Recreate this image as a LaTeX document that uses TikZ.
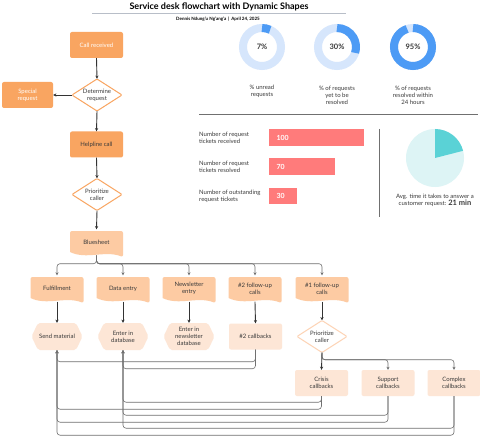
\documentclass[tikz,border=0pt]{standalone}
\usepackage{fontspec}
\setmainfont{Lato}
\usetikzlibrary{arrows.meta,calc}
\definecolor{org}{HTML}{F9A561}
\definecolor{lorg}{HTML}{FDCBA3}
\definecolor{peach}{HTML}{FDE6D6}
\definecolor{pborder}{HTML}{FDD3B5}
\definecolor{txt}{HTML}{3A3A3A}
\definecolor{lblue}{HTML}{D6E6FC}
\definecolor{dblue}{HTML}{4D9BF5}
\definecolor{salmon}{HTML}{FF7B7B}
\definecolor{lcyan}{HTML}{DDF4F5}
\definecolor{tealc}{HTML}{5AD2D6}
\definecolor{linec}{HTML}{333333}
\definecolor{backc}{HTML}{707070}
\definecolor{ulc}{HTML}{B8BEC8}
\newcommand\lbl{\fontsize{6}{7}\selectfont}
\newcommand\mydiamond[5]{%
  \filldraw[fill=white, draw=#4, line width=1pt, rounded corners=1pt] (#2-25,#3) -- (#2,#3-16) -- (#2+25,#3) -- (#2,#3+16) -- cycle;
  \node[ghost, minimum width=50pt, minimum height=32pt] (#1) at (#2,#3) {#5};}
\newcommand\mydoc[5]{%
  \fill[#4, rounded corners=2pt] (#2-26.5,#3+8) -- (#2-26.5,#3-13) -- (#2+26.5,#3-13) -- (#2+26.5,#3+13) [sharp corners] .. controls (#2+8,#3+6) and (#2-10,#3+16) .. (#2-26.5,#3+8) -- cycle;
  \node[ghost, minimum width=53pt, minimum height=26pt] (#1) at (#2,#3-1.5) {#5};}
\newcommand\myhex[5]{%
  \fill[#4, rounded corners=2pt] (#2-25.5,#3) -- (#2-19,#3-13.5) -- (#2+19,#3-13.5) -- (#2+25.5,#3) -- (#2+19,#3+13.5) -- (#2-19,#3+13.5) -- cycle;
  \node[ghost, minimum width=51pt, minimum height=27pt] (#1) at (#2,#3) {#5};}
\begin{document}
\begin{tikzpicture}[x=1pt,y=-1pt,
  ghost/.style={rectangle, inner sep=1pt, align=center, font=\lbl, text=txt},
  box/.style={ghost, rounded corners=2pt, minimum width=53pt, minimum height=26pt},
  arr/.style={draw=linec, line width=0.9pt, -{Stealth[length=3.2pt,width=3.2pt]}},
  brarr/.style={draw=backc, line width=0.6pt, rounded corners=3pt, -{Stealth[length=3pt,width=3pt]}},
  back/.style={draw=backc, line width=0.6pt, rounded corners=3pt, -{Stealth[length=3pt,width=3pt]}},
  plain/.style={font=\lbl, text=txt, align=center, inner sep=0pt}]
\useasboundingbox[fill=white] (0,0) rectangle (480,436);
% title
\node[font=\bfseries\fontsize{9}{9}\selectfont, text=black] (title) at (219,7) {Service desk flowchart with Dynamic Shapes};
\draw[ulc, line width=0.8pt] (92,13) -- (346,13);
\node[font=\bfseries\fontsize{4.5}{5}\selectfont, text=black] (sub) at (218,19.5) {Dennis Ndung'u Ng'ang'a \,\textbf{|}\, April 24, 2025};
% left flow
\node[box, fill=org, text=white] (call) at (96.5,45) {Call received};
\node[box, fill=org, text=white, minimum width=51pt] (spec) at (27.5,95) {Special\\request};
\mydiamond{det}{97}{95}{org}{Determine\\request}
\node[box, fill=org] (help) at (96.5,144.5) {Helpline call};
\mydiamond{pc1}{97}{194.5}{org}{Prioritize\\caller}
\mydoc{blue}{96.5}{244}{lorg}{Bluesheet}
\draw[arr] (call.south) -- (det.north);
\draw[arr] (det.west) -- (spec.east);
\draw[arr] (det.south) -- (help.north);
\draw[arr] (help.south) -- (pc1.north);
\draw[arr] (pc1.south) -- (blue.north);
% document row
\mydoc{ful}{57}{290}{lorg}{Fulfillment}
\mydoc{data}{123}{290}{lorg}{Data entry}
\mydoc{news}{189}{290}{lorg}{Newsletter\\entry}
\mydoc{fu2}{255}{290}{lorg}{\#2 follow-up\\calls}
\mydoc{fu1}{322}{290}{lorg}{\#1 follow-up\\calls}
\foreach \d in {ful,data,news,fu2,fu1}
  \draw[brarr] (blue.south) -- ++(0,8) -| (\d.north);
% second row
\myhex{send}{57}{336.5}{peach}{Send material}
\myhex{enter}{123}{336.5}{peach}{Enter in\\database}
\myhex{nenter}{189}{336.5}{peach}{Enter in\\newsletter\\database}
\node[box, fill=peach] (cb2) at (255.5,336.5) {\#2 callbacks};
\mydiamond{pc2}{322}{336.5}{pborder}{Prioritize\\caller}
\draw[arr] (ful.south) -- (send.north);
\draw[arr] (data.south) -- (enter.north);
\draw[arr] (news.south) -- (nenter.north);
\draw[arr] (fu2.south) -- (cb2.north);
\draw[arr] (fu1.south) -- (pc2.north);
% callbacks
\node[box, fill=peach] (crisis) at (321.5,383) {Crisis\\callbacks};
\node[box, fill=peach] (support) at (388,383) {Support\\callbacks};
\node[box, fill=peach] (complex) at (454,383) {Complex\\callbacks};
\draw[arr] (pc2.south) -- (crisis.north);
\draw[brarr] (pc2.south) -- ++(0,7) -| (support.north);
\draw[brarr] (pc2.south) -- ++(0,7) -| (complex.north);
% return connectors
\draw[back] (cb2.south) -- ++(0,12) -| (send.south);
\draw[back] (cb2.south) -- ++(0,19) -| (enter.south);
\draw[back] (crisis.south) -- ++(0,6) -| (enter.south);
\draw[back] (crisis.south) -- ++(0,13) -| (send.south);
\draw[back] (support.south) -- ++(0,19) -| (enter.south);
\draw[back] (support.south) -- ++(0,26) -| (send.south);
\draw[back] (complex.south) -- ++(0,32) -| (enter.south);
\draw[back] (complex.south) -- ++(0,39) -| (send.south);
% donuts
\foreach \cx/\p in {262/7,337/30,413/95}{
  \draw[lblue, line width=8pt] (\cx,47) circle[radius=19];
  \draw[dblue, line width=8pt] (\cx,47) ++(-90:19) arc[start angle=-90, end angle={-90+3.6*\p}, radius=19];
  \node[font=\bfseries\fontsize{7.5}{8}\selectfont, text=txt] at (\cx,47) {\p\%};
}
\node[plain] (l1) at (262,91.5) {\% unread\\requests};
\node[plain] (l2) at (337,95) {\% of requests\\yet to be\\resolved};
\node[plain] (l3) at (413,95) {\% of requests\\resolved within\\24 hours};
\draw[backc, line width=1pt] (199,115) -- (478,115);
% bars
\fill[salmon] (269,129) rectangle (364,146);
\fill[salmon] (269,158) rectangle (335,175);
\fill[salmon] (269,188) rectangle (297,204);
\node[font=\bfseries\fontsize{7}{7}\selectfont, text=white, anchor=west] (v1) at (273,137.5) {100};
\node[font=\bfseries\fontsize{7}{7}\selectfont, text=white, anchor=west] (v2) at (273,166.5) {70};
\node[font=\bfseries\fontsize{7}{7}\selectfont, text=white, anchor=west] (v3) at (273,196) {30};
\node[plain, align=left, anchor=west] (b1) at (199,137.5) {Number of request\\tickets received};
\node[plain, align=left, anchor=west] (b2) at (199,166.5) {Number of request\\tickets resolved};
\node[plain, align=left, anchor=west] (b3) at (199,196) {Number of outstanding\\request tickets};
\draw[backc, line width=1pt] (379,129) -- (379,217);
% pie
\fill[lcyan] (435,158) circle[radius=29];
\fill[tealc] (435,158) -- ++(-90:29) arc[start angle=-90, end angle=-14.4, radius=29] -- cycle;
\node[plain] (pcap) at (435,200) {Avg. time it takes to answer a\\customer request: {\bfseries\fontsize{7.5}{7}\selectfont 21 min}};
\end{tikzpicture}
\end{document}
